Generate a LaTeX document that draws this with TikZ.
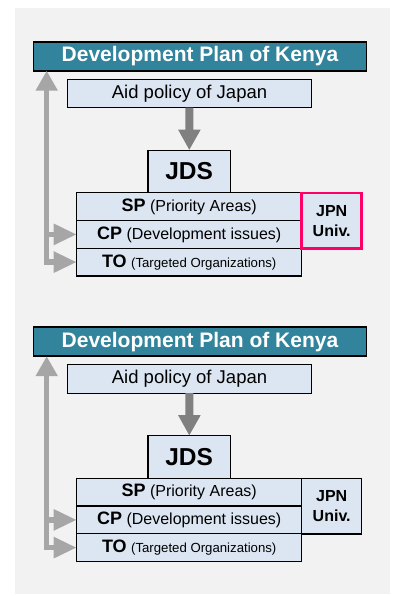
\documentclass[tikz,border=0pt]{standalone}
\usepackage{fontspec}
\setmainfont{Liberation Sans}
\usepackage{xcolor}
\usepackage{tikz}
\usetikzlibrary{positioning,arrows.meta}

\definecolor{bggray}{HTML}{F2F2F2}
\definecolor{kenyateal}{HTML}{31849B}
\definecolor{boxblue}{HTML}{DCE6F2}
\definecolor{jpnpink}{HTML}{FF0066}
\definecolor{railgray}{HTML}{A6A6A6}
\definecolor{downgray}{HTML}{808080}
\newcommand{\rowtag}[1]{{\bfseries\fontsize{18}{20}\selectfont #1}}

\begin{document}
\begin{tikzpicture}[x=1pt,y=-1pt,
  box/.style={draw,line width=1.2pt,fill=boxblue,inner sep=0pt,outer sep=0pt,align=center},
  row/.style={box,minimum width=225pt,minimum height=27.7pt,font=\fontsize{16}{20}\selectfont},
  railarrow/.style={draw=railgray,line width=5.5pt}]
\useasboundingbox (0,0) rectangle (395,596);
\fill[bggray] (15,8) rectangle (390,594);
% one panel per pass, the first with the marked JPN box
\foreach \i/\yo/\jc/\jw in {1/0/jpnpink/2.6pt,2/285.5/black/1.2pt}{
  \node[box,fill=kenyateal,line width=1.8pt,minimum width=333pt,minimum height=29pt,
        text=white,font=\bfseries\fontsize{21}{24}\selectfont] (banner\i) at (200,56.2+\yo) {Development Plan of Kenya};
  \node[box,minimum width=244pt,minimum height=28.4pt,font=\fontsize{18.5}{22}\selectfont] (aid\i) at (189.5,93.5+\yo) {Aid policy of Japan};
  \node[row] (sp\i) at (189.2,206.7+\yo) {\rowtag{SP} (Priority Areas)};
  \node[row,below=0pt of sp\i] (cp\i) {\rowtag{CP} (Development issues)};
  \node[row,below=0pt of cp\i] (to\i) {\rowtag{TO} {\fontsize{13.2}{16}\selectfont(Targeted Organizations)}};
  \node[box,above=0pt of sp\i,minimum width=82.4pt,minimum height=42.7pt,font=\bfseries\fontsize{24.5}{28}\selectfont] (jds\i) {JDS};
  \node[box,anchor=north west,draw=\jc,line width=\jw,minimum width=60pt,minimum height=55.7pt,
        font=\bfseries\fontsize{16}{20}\selectfont] (jpn\i) at (sp\i.north east) {JPN\\Univ.};
  \draw[downgray,line width=8pt,-{Triangle[width=21pt,length=20.5pt]}] (aid\i) -- (jds\i);
  \coordinate (rail\i) at ([xshift=-30pt]to\i.west);
  \draw[railarrow,{Triangle[width=21pt,length=20pt]}-{Triangle[width=20pt,length=23pt]}]
    (rail\i |- banner\i.south) -- (rail\i) -- (to\i.west);
  \draw[railarrow,-{Triangle[width=20pt,length=23pt]}] (rail\i |- cp\i.west) -- (cp\i.west);
}
\end{tikzpicture}
\end{document}
